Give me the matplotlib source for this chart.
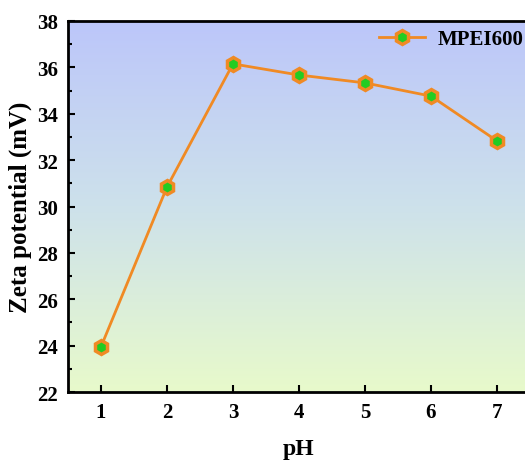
import numpy as np
import matplotlib.pyplot as plt

ph = [1, 2, 3, 4, 5, 6, 7]
zeta = [23.95, 30.84, 36.15, 35.67, 35.33, 34.76, 32.83]

plt.rcParams['font.family'] = ['Liberation Serif', 'DejaVu Serif']
plt.rcParams['font.weight'] = 'bold'

fig = plt.figure(figsize=(5.25, 4.64), dpi=100)
ax = fig.add_axes([0.1295, 0.153, 0.88, 0.7996])

# background gradient, blue at top to yellow-green at bottom
top = np.array([188, 198, 250]) / 255
mid = np.array([205, 225, 235]) / 255
bot = np.array([232, 250, 203]) / 255
t = np.linspace(0, 1, 256)[:, None]
grad = np.where(t < 0.5, top * (1 - 2 * t) + mid * 2 * t, mid * (2 - 2 * t) + bot * (2 * t - 1))
grad = grad[:, None, :].repeat(2, axis=1)
ax.imshow(grad, extent=[0, 1, 0, 1], transform=ax.transAxes, aspect='auto', zorder=0)

ax.plot(ph, zeta, color='#f08a24', lw=2, marker='h', ms=10,
        mfc='#22cc22', mec='#f08a24', mew=2.5, label='MPEI600', zorder=3)

ax.set_xlim(0.5, 7.5)
ax.set_ylim(22, 38)
ax.set_xticks(ph)
ax.set_yticks(np.arange(22, 39, 2))
ax.set_yticks(np.arange(23, 38, 2), minor=True)
ax.tick_params(axis='both', which='both', direction='in', labelsize=15, width=1.5)
ax.tick_params(which='major', length=5, pad=7)
ax.tick_params(which='minor', length=3)
ax.tick_params(axis='x', which='minor', bottom=False)
for s in ax.spines.values():
    s.set_linewidth(2)

ax.set_xlabel('pH', fontsize=17, fontweight='bold', labelpad=12)
ax.set_ylabel('Zeta potential (mV)', fontsize=18, fontweight='bold', labelpad=4)

ax.legend(loc='upper right', bbox_to_anchor=(1.013, 1.012), frameon=False, handlelength=2.2,
          borderaxespad=0.2, handletextpad=0.6, prop={'weight': 'bold', 'size': 15})

fig.savefig('out.png', dpi=100)
